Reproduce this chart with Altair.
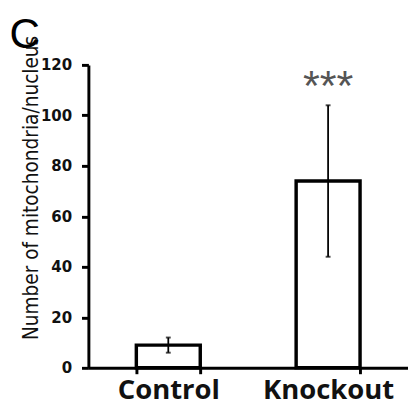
import altair as alt
import pandas as pd

categories = ["Control", "Knockout"]
means = [9, 74]
errors = [3, 30]
stars = ["", "***"]

df = pd.DataFrame({
    "group": categories,
    "mean": means,
    "lo": [m - e for m, e in zip(means, errors)],
    "hi": [m + e for m, e in zip(means, errors)],
    "star": stars,
    "star_y": [m + e + 12 for m, e in zip(means, errors)],
})

narrow = "'Liberation Sans Narrow', 'DejaVu Sans Condensed', sans-serif"

x = alt.X("group:N", sort=categories,
          scale=alt.Scale(paddingInner=0.6, paddingOuter=0.3),
          axis=alt.Axis(title=None, labelAngle=0, tickBand="extent",
                        labelFont="Open Sans", labelFontWeight="bold",
                        labelFontSize=28, labelColor="#111",
                        labelBaseline="top", labelPadding=3,
                        domainColor="black", domainWidth=3,
                        tickColor="black", tickWidth=3, tickSize=6))

y_axis = alt.Axis(title="Number of mitochondria/nucleus", values=[0, 20, 40, 60, 80, 100, 120],
                  titleFont=narrow, titleFontSize=21, titleFontWeight="normal",
                  titleColor="#111", titleX=-58, titleY=125, titleAngle=-90,
                  titleAlign="center", titleBaseline="middle",
                  labelFont=narrow, labelFontSize=17, labelFontWeight="bold",
                  labelColor="#111", labelPadding=10,
                  domainColor="black", domainWidth=3,
                  tickColor="black", tickWidth=3, tickSize=7, grid=False)

base = alt.Chart(df)

bars = base.mark_bar(fill="white", stroke="black", strokeWidth=3.5).encode(
    x=x,
    y=alt.Y("mean:Q", scale=alt.Scale(domain=[0, 120], nice=False), axis=y_axis),
)

err = base.mark_rule(color="black", strokeWidth=1.8).encode(
    x=alt.X("group:N", sort=categories),
    y="lo:Q", y2="hi:Q",
)
caps_top = base.mark_tick(color="black", thickness=2, size=5, orient="horizontal").encode(
    x=alt.X("group:N", sort=categories), y="hi:Q")
caps_bot = base.mark_tick(color="black", thickness=2, size=5, orient="horizontal").encode(
    x=alt.X("group:N", sort=categories), y="lo:Q")

star_text = base.mark_text(font="Liberation Sans", fontSize=44, color="#555",
                           baseline="middle", dy=13).encode(
    x=alt.X("group:N", sort=categories), y="star_y:Q", text="star:N")

letter = alt.Chart(pd.DataFrame({"t": ["C"]})).mark_text(
    font="Liberation Sans", fontSize=43, color="black",
    align="center", baseline="alphabetic").encode(
    x=alt.value(-65), y=alt.value(-17), text="t:N")

chart = alt.layer(bars, err, caps_top, caps_bot, star_text, letter).properties(
    width=326, height=309,
    padding={"left": 82, "top": 54, "right": 0, "bottom": 40},
    autosize=alt.AutoSizeParams(type="none"),
).configure_view(stroke=None)

chart.save("out.html", embed_options={"renderer": "svg", "actions": False})
